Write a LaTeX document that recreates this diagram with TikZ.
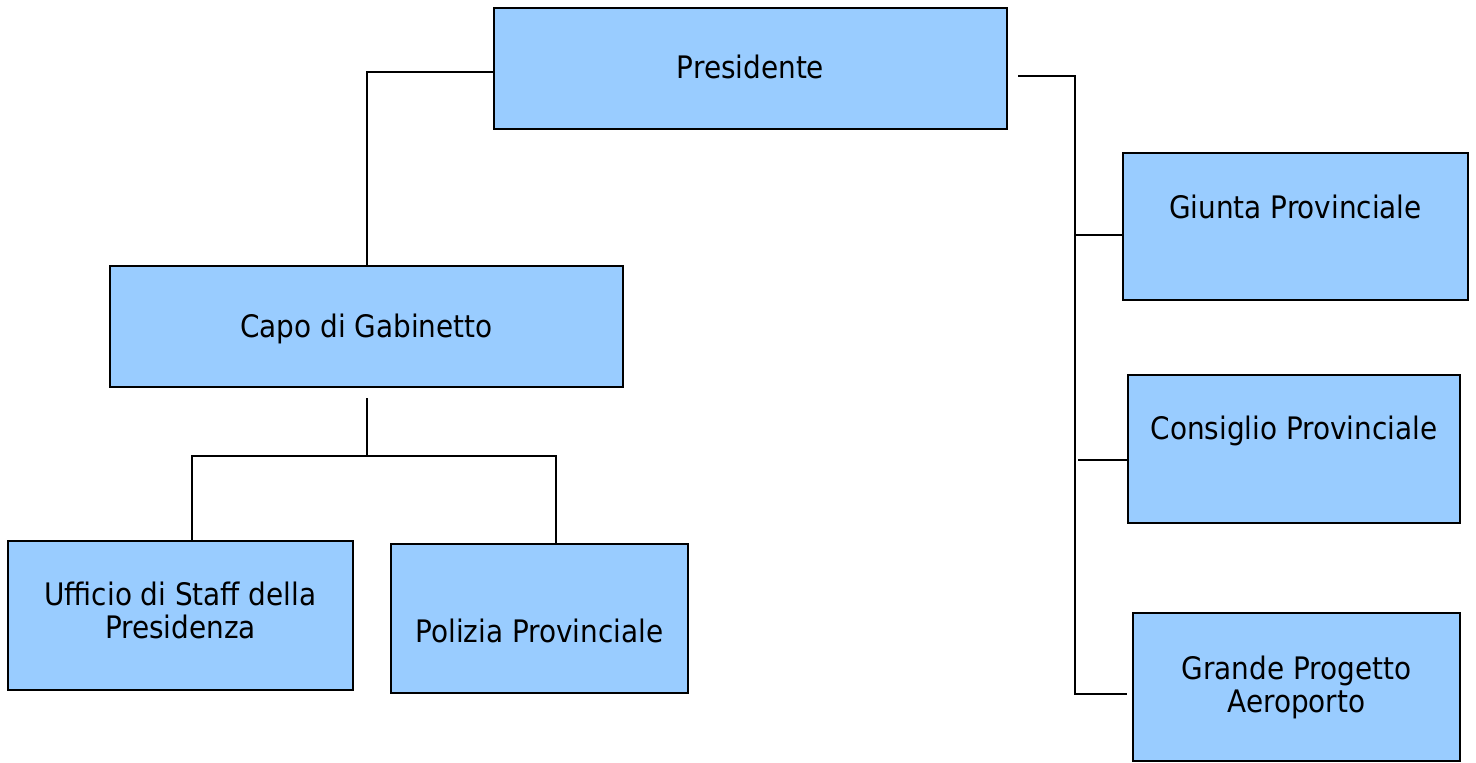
\documentclass[tikz,border=0pt]{standalone}
\usepackage{fontspec}
\setmainfont{DejaVu Sans Condensed}
\usepackage{tikz}
\usetikzlibrary{calc}
\usetikzlibrary{positioning}

\definecolor{boxblue}{HTML}{99CCFF}

\begin{document}
\begin{tikzpicture}[x=0.5pt,y=-0.5pt]
\tikzstyle{box}=[rectangle,align=center,draw,line width=1.4pt,fill=boxblue,inner sep=0pt,
                 font=\fontsize{15.5}{16.5}\selectfont]
\tikzstyle{link}=[line width=1pt]
\useasboundingbox (0,0) rectangle (1476,762);
\node[box,minimum width=256.5pt,minimum height=60.5pt,text height=12pt,text depth=2.5pt] at(750.5, 68.5) (pres) {Presidente};
\node[box,minimum width=256.5pt,minimum height=60.5pt,text height=12pt,text depth=1.5pt] at(366.5, 326.5) (capo) {Capo di Gabinetto};
\node[box,minimum width=172.5pt,minimum height=74.5pt] at(180.5, 615.5) (staff) {Ufficio di Staff della\\
                         Presidenza\\[-11.5pt]};
\node[box,minimum width=148.5pt,minimum height=74.5pt,text height=24pt,text depth=0.5pt] at(539.5, 618.5) (poli) {Polizia Provinciale};
\node[box,minimum width=172.5pt,minimum height=73.5pt,text height=12pt,text depth=20.5pt] at(1295.5, 226.5) (giunta) {Giunta Provinciale};
\node[box,minimum width=166pt,minimum height=74pt,text height=12pt,text depth=21.5pt] at(1294, 449) (cons) {Consiglio Provinciale};
\node[box,minimum width=163.5pt,minimum height=74pt] at(1296.5, 687) (grande) {Grande Progetto\\
                         Aeroporto};
\coordinate (fork) at (366.5, 456);
\coordinate (spine) at (1075, 694);
% left branch
\draw[link] ([yshift=-1.75pt]pres.west) -| (capo.north);
\draw[link] ([yshift=-5pt]capo.south) -- (fork);
\draw[link] ([xshift=5.75pt]staff.north) |- (fork) -| ([xshift=8.25pt]poli.north);
% right branch
\draw[link] ([xshift=5pt,yshift=-3.75pt]pres.east) -| (spine) -- ([xshift=-2.5pt,yshift=-3.5pt]grande.west);
\draw[link] ([yshift=-4.25pt]giunta.west) -- ([yshift=-4.25pt]giunta.west -| spine);
\draw[link] ([yshift=-5.5pt]cons.west) -- ([xshift=1.5pt,yshift=-5.5pt]cons.west -| spine);
\end{tikzpicture}
\end{document}
